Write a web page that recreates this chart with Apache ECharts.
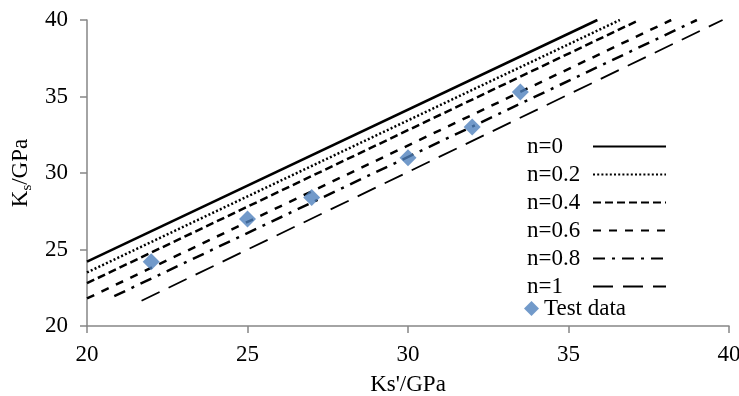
<!DOCTYPE html>
<html>
<head>
<meta charset="utf-8">
<script src="https://cdn.jsdelivr.net/npm/echarts@6/dist/echarts.min.js"></script>
<style>
  html, body { margin: 0; padding: 0; background: #fff; }
  #chart { width: 739px; height: 396px; }
</style>
</head>
<body>
<div id="chart"></div>
<script>
// model curves, each drawn as start/end points [Ks', Ks]
const curveNames = ['n=0', 'n=0.2', 'n=0.4', 'n=0.6', 'n=0.8', 'n=1']
const curveN0 = [[20, 24.2], [35.9, 40]]
const curveN02 = [[20, 23.5], [36.6, 40]]
const curveN04 = [[20, 22.8], [37.2, 40]]
const curveN06 = [[20, 21.8], [38.2, 40]]
const curveN08 = [[20.85, 21.95], [39.0, 40]]
const curveN1 = [[21.7, 21.65], [39.8, 40]]

// test data
const testKsPrime = [22, 25, 27, 30, 32, 33.5]
const testKs = [24.2, 27, 28.4, 31, 33, 35.3]

const xTicks = [20, 25, 30, 35, 40]
const yTicks = [20, 25, 30, 35, 40]

const font = '"Liberation Serif", "Times New Roman", serif'
const curves = [curveN0, curveN02, curveN04, curveN06, curveN08, curveN1]
const dashTypes = ['solid', [2, 2.2], [8, 4], [8, 8], [12, 7, 3, 7], [20, 10]]
const widths = [2.5, 2.5, 2.5, 2.5, 2.5, 1.8]

const chart = echarts.init(document.getElementById('chart'))

const lineSeries = curves.map((pts, i) => ({
  name: curveNames[i],
  type: 'line',
  data: pts,
  symbol: 'none',
  silent: true,
  itemStyle: { color: '#000' },
  lineStyle: { color: '#000', width: widths[i], type: dashTypes[i], cap: 'butt' },
  z: 2
}))

const option = {
  backgroundColor: '#fff',
  animation: false,
  grid: { left: 87, right: 10, top: 20, bottom: 70, outerBoundsMode: 'none' },
  xAxis: {
    type: 'value',
    min: xTicks[0],
    max: xTicks[xTicks.length - 1],
    interval: 5,
    name: "Ks'/GPa",
    nameLocation: 'middle',
    nameGap: 47,
    nameTextStyle: { fontFamily: font, fontSize: 23, color: '#000' },
    axisLine: { lineStyle: { color: '#868686', width: 1.5 } },
    axisTick: { show: true, length: 7, lineStyle: { color: '#868686', width: 1.5 } },
    axisLabel: { fontFamily: font, fontSize: 23, color: '#000', margin: 17 },
    splitLine: { show: false }
  },
  yAxis: {
    type: 'value',
    min: yTicks[0],
    max: yTicks[yTicks.length - 1],
    interval: 5,
    name: '{a|K}{b|s}{a|/GPa}',
    nameLocation: 'middle',
    nameGap: 49,
    nameTextStyle: {
      rich: {
        a: { fontFamily: font, fontSize: 23, color: '#000' },
        b: { fontFamily: font, fontSize: 15, color: '#000', padding: [11, 0, 0, 0] }
      }
    },
    axisLine: { show: true, lineStyle: { color: '#868686', width: 1.5 } },
    axisTick: { show: true, length: 7, lineStyle: { color: '#868686', width: 1.5 } },
    axisLabel: { fontFamily: font, fontSize: 23, color: '#000', margin: 19 },
    splitLine: { show: false }
  },
  legend: [
    {
      data: curveNames,
      orient: 'vertical',
      left: 527,
      top: 135,
      padding: 0,
      align: 'right',
      itemWidth: 73,
      itemHeight: 14,
      itemGap: 5,
      itemTextGap: 4,
      selectedMode: false,
      itemStyle: { opacity: 0 },
      formatter: name => '{t|' + name + '}',
      textStyle: {
        fontFamily: font, fontSize: 23, color: '#000',
        rich: { t: { fontFamily: font, fontSize: 23, color: '#000', width: 61, align: 'left' } }
      }
    },
    {
      data: ['Test data'],
      orient: 'vertical',
      left: 524,
      top: 297,
      padding: 0,
      itemWidth: 15,
      itemHeight: 15,
      itemTextGap: 4,
      selectedMode: false,
      textStyle: { fontFamily: font, fontSize: 23, color: '#000' }
    }
  ],
  series: [
    ...lineSeries,
    {
      name: 'Test data',
      type: 'scatter',
      data: testKsPrime.map((x, i) => [x, testKs[i]]),
      symbol: 'diamond',
      symbolSize: [17, 17],
      itemStyle: { color: '#4F81BD' },
      z: 3
    }
  ]
}

chart.setOption(option)
</script>
</body>
</html>
